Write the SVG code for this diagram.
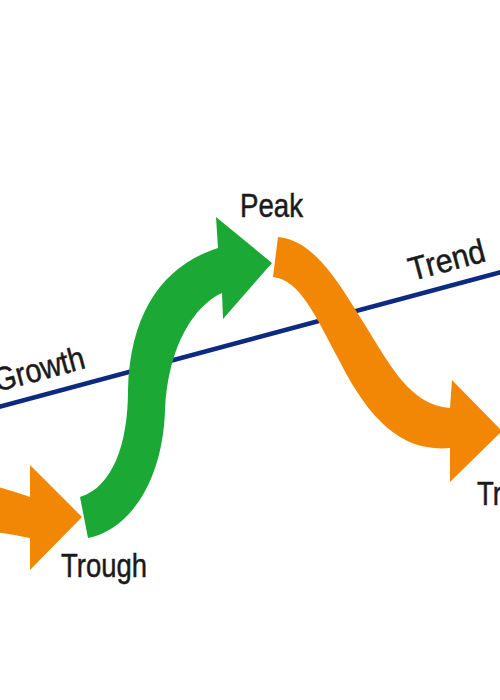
<svg xmlns="http://www.w3.org/2000/svg" width="500" height="700" viewBox="0 0 500 700">
<style>
.lbl{font-family:"Liberation Sans",Arial,sans-serif;font-size:33px;fill:#1a1a1a;stroke:#1a1a1a;stroke-width:0.5px}
.orange{fill:#f28705}
.green{fill:#1ca834}
</style>
<rect width="500" height="700" fill="#ffffff"/>
<g id="connectors">
<line id="trend-line" x1="-5" y1="408" x2="505" y2="271" stroke="#0c2a80" stroke-width="4.5"/>
</g>
<g id="label-growth"><text class="lbl" transform="translate(-3,392) rotate(-15)" textLength="93" lengthAdjust="spacingAndGlyphs">Growth</text></g>
<g id="label-trend"><text class="lbl" transform="translate(412,281) rotate(-15)" textLength="78" lengthAdjust="spacingAndGlyphs">Trend</text></g>
<g id="arrow-left">
<path class="orange" d="M-20,482 Q10,490 30,497 L30,465 L82,517 L30,570 L30,538 Q10,534 -20,530 Z"/>
</g>
<g id="arrow-up">
<path class="green" d="M80,497 C112,487 128,445 128,390 C130,310 165,265 218,248 L216,217 L272,263 L223,319 L222,293 C195,305 168,345 165,410 C163,480 130,530 88,538 Z"/>
</g>
<g id="arrow-down">
<path class="orange" d="M278,237 C315,240 340,285 365,325 C390,365 410,405 450,408 L452,380 L502,431 L450,482 L450,448 C405,452 372,425 340,362 C315,315 300,280 273,277 Z"/>
</g>
<g id="label-peak"><text class="lbl" x="240" y="217" textLength="63" lengthAdjust="spacingAndGlyphs">Peak</text></g>
<g id="label-trough"><text class="lbl" x="61" y="577" textLength="86" lengthAdjust="spacingAndGlyphs">Trough</text></g>
<g id="label-trough-right"><text class="lbl" x="477" y="505" textLength="86" lengthAdjust="spacingAndGlyphs">Trough</text></g>
</svg>
